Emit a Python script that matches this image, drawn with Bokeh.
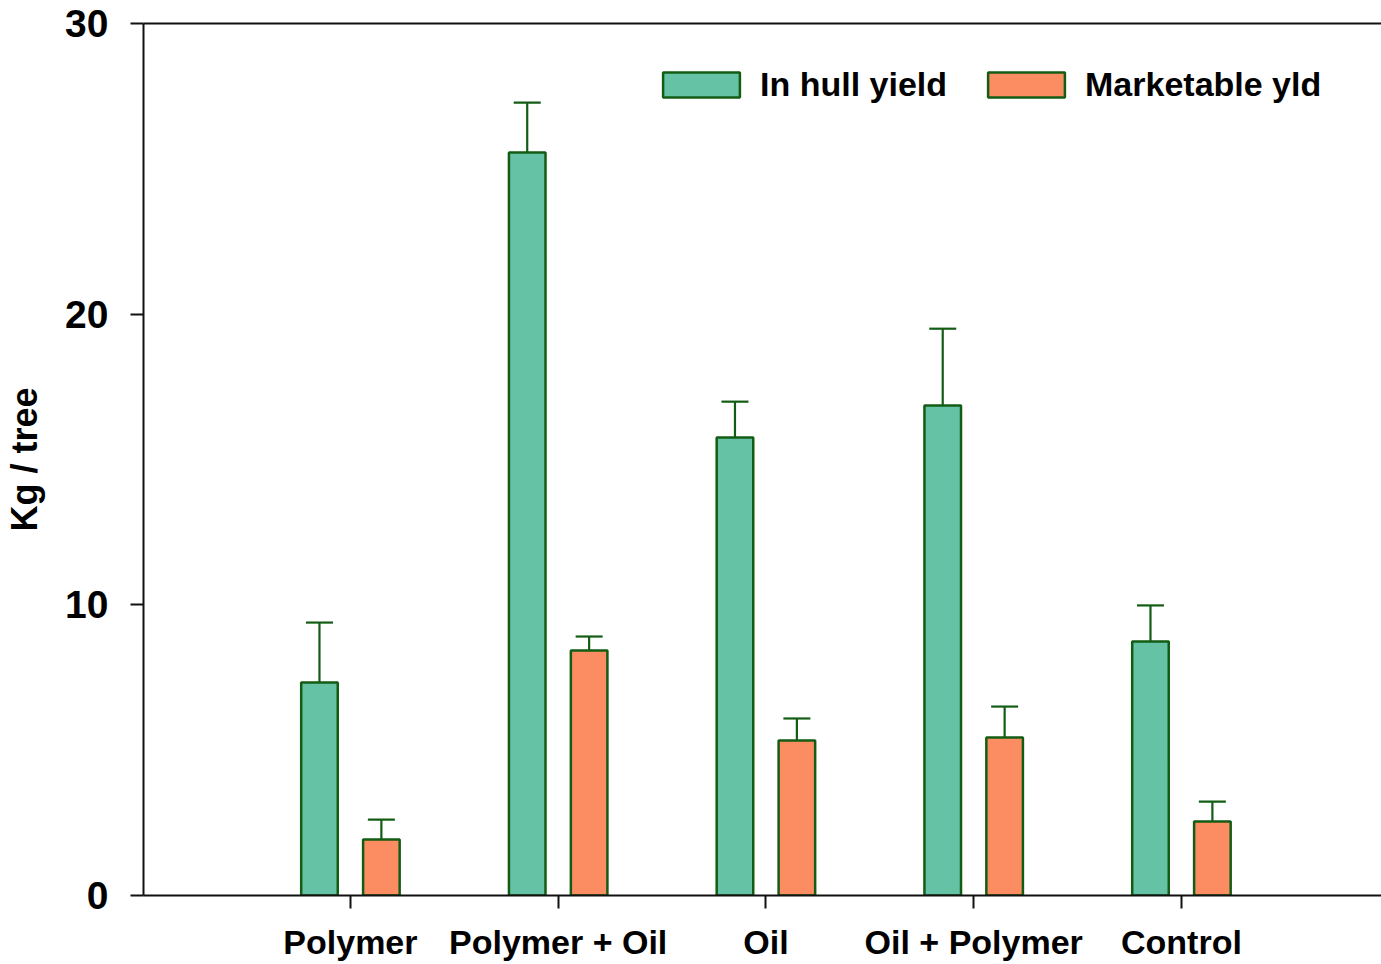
from bokeh.plotting import figure
from bokeh.models import (Range1d, FixedTicker, ColumnDataSource, Whisker, TeeHead,
                          Legend, LegendItem, LinearAxis)
from bokeh.embed import file_html
from bokeh.resources import INLINE

categories = ["Polymer", "Polymer + Oil", "Oil", "Oil + Polymer", "Control"]
in_hull = [7.33, 25.56, 15.76, 16.86, 8.74]
in_hull_err = [2.06, 1.72, 1.23, 2.64, 1.24]
marketable = [1.93, 8.43, 5.33, 5.44, 2.55]
marketable_err = [0.68, 0.48, 0.76, 1.06, 0.68]
y_ticks = [0, 10, 20, 30]

FONT = "Liberation Sans"
EDGE = "#135c14"
GREEN = "#66c2a5"
ORANGE = "#fc8d62"

xs = list(range(len(categories)))
off = 0.149
bw = 0.176

p = figure(width=1381, height=964, output_backend="svg", toolbar_location=None,
           x_range=Range1d(-0.996, 4.963), y_range=Range1d(0, 30),
           min_border_left=143, min_border_top=23, min_border_bottom=69, min_border_right=0)
p.outline_line_color = None
p.grid.visible = False
p.background_fill_color = "white"

src_g = ColumnDataSource(dict(x=[x - off for x in xs], top=in_hull,
                              up=[v + e for v, e in zip(in_hull, in_hull_err)]))
src_o = ColumnDataSource(dict(x=[x + off for x in xs], top=marketable,
                              up=[v + e for v, e in zip(marketable, marketable_err)]))

for src in (src_g, src_o):
    p.add_layout(Whisker(source=src, base="x", lower="top", upper="up",
                         line_color=EDGE, line_width=2.2, lower_head=None,
                         upper_head=TeeHead(size=27, line_color=EDGE, line_width=2.2)))

rg = p.vbar(x="x", top="top", width=bw, source=src_g, fill_color=GREEN,
            line_color=EDGE, line_width=2.5)
ro = p.vbar(x="x", top="top", width=bw, source=src_o, fill_color=ORANGE,
            line_color=EDGE, line_width=2.5)

# axes
xa = p.xaxis[0]
xa.ticker = FixedTicker(ticks=xs)
xa.major_label_overrides = {i: c for i, c in enumerate(categories)}
xa.minor_tick_line_color = None
xa.major_tick_in = 0
xa.major_tick_out = 13
xa.axis_line_width = 2
xa.major_tick_line_width = 2
xa.axis_line_color = "#111111"
xa.major_tick_line_color = "#111111"
xa.major_label_text_font = FONT
xa.major_label_text_font_style = "bold"
xa.major_label_text_font_size = "34px"
xa.major_label_text_color = "black"
xa.major_label_standoff = 14

ya = p.yaxis[0]
ya.ticker = FixedTicker(ticks=y_ticks)
ya.minor_tick_line_color = None
ya.major_tick_in = 0
ya.major_tick_out = 13
ya.axis_line_width = 2
ya.major_tick_line_width = 2
ya.axis_line_color = "#111111"
ya.major_tick_line_color = "#111111"
ya.major_label_text_font = FONT
ya.major_label_text_font_style = "bold"
ya.major_label_text_font_size = "39px"
ya.major_label_text_color = "black"
ya.major_label_standoff = 22
ya.axis_label = "Kg / tree"
ya.axis_label_text_font = FONT
ya.axis_label_text_font_style = "bold"
ya.axis_label_text_font_size = "36px"
ya.axis_label_text_color = "black"
ya.axis_label_standoff = 17

top_axis = LinearAxis(ticker=FixedTicker(ticks=[]), major_label_text_font_size="0px",
                      axis_line_width=2, axis_line_color="#111111",
                      minor_tick_line_color=None, major_tick_line_color=None)
p.add_layout(top_axis, "above")

legend = Legend(items=[LegendItem(label="In hull yield", renderers=[rg]),
                       LegendItem(label="Marketable yld", renderers=[ro])],
                orientation="horizontal", location=(510, 791),
                glyph_width=96, glyph_height=31, label_standoff=11, spacing=31,
                padding=0, margin=0, border_line_color=None, background_fill_alpha=0,
                label_text_font=FONT, label_text_font_style="bold",
                label_text_font_size="34px", label_text_color="black")
p.add_layout(legend, "center")

open("out.html", "w").write(file_html(p, INLINE))
